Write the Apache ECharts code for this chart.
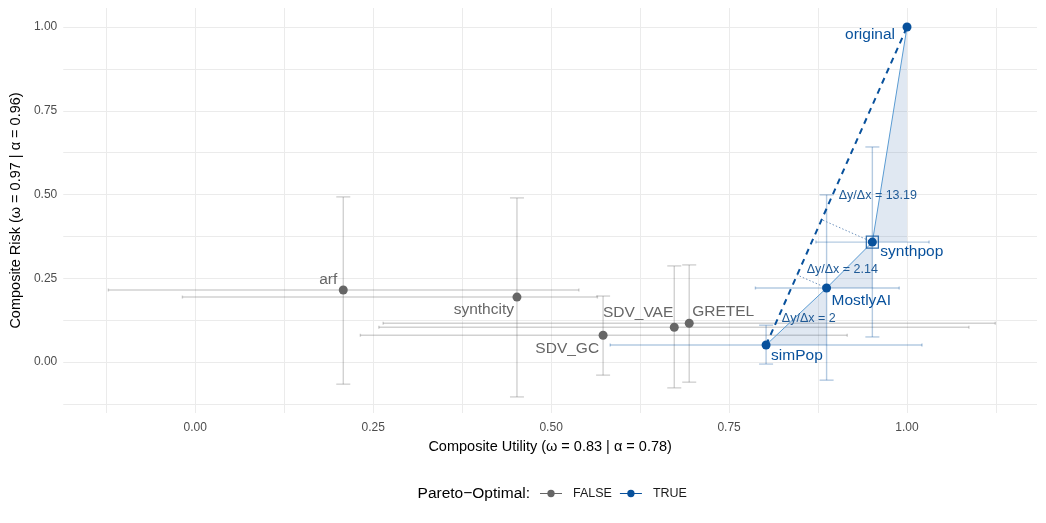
<!DOCTYPE html>
<html>
<head>
<meta charset="utf-8">
<script src="https://cdn.jsdelivr.net/npm/echarts@6/dist/echarts.min.js"></script>
<style>
  html, body { margin: 0; padding: 0; background: #fff; }
  #chart { width: 1046px; height: 523px; }
</style>
</head>
<body>
<div id="chart"></div>
<script>
// data
const methods   = ['original', 'synthpop', 'MostlyAI', 'simPop', 'arf', 'synthcity', 'SDV_GC', 'SDV_VAE', 'GRETEL'];
const utility   = [1.000, 0.9513, 0.887, 0.802, 0.208, 0.452, 0.573, 0.673, 0.694];
const risk      = [1.000, 0.358, 0.221, 0.051, 0.215, 0.194, 0.080, 0.104, 0.116];
const utilityLo = [null, 0.872, 0.787, 0.583, -0.122, -0.018, 0.232, 0.258, 0.264];
const utilityHi = [null, 1.031, 0.989, 1.021, 0.539, 0.565, 0.916, 1.087, 1.124];
const riskLo    = [null, 0.075, -0.054, -0.006, -0.066, -0.104, -0.039, -0.077, -0.060];
const riskHi    = [null, 0.642, 0.499, 0.110, 0.493, 0.490, 0.197, 0.287, 0.290];
const paretoOptimal = [true, true, true, true, false, false, false, false, false];
const bestMethod = 'synthpop';

const slopeText = ['Δy/Δx = 13.19', 'Δy/Δx = 2.14', 'Δy/Δx = 2'];
const slopeX    = [0.959, 0.909, 0.862];
const slopeY    = [0.496, 0.275, 0.131];

const xTicks = [0, 0.25, 0.5, 0.75, 1];
const yTicks = [0, 0.25, 0.5, 0.75, 1];
const xBreaks = [-0.125, 0, 0.125, 0.25, 0.375, 0.5, 0.625, 0.75, 0.875, 1, 1.125];
const yBreaks = [-0.125, 0, 0.125, 0.25, 0.375, 0.5, 0.625, 0.75, 0.875, 1];

const GREY = '#666666';
const BLUE = '#08519c';
const FONT = '"Liberation Sans", Arial, Helvetica, sans-serif';

// where each method label sits relative to its point
const labelPlace = {
  original:  { dx: -12, dy: 8,   align: 'right' },
  synthpop:  { dx: 8,   dy: 10,  align: 'left' },
  MostlyAI:  { dx: 5,   dy: 13,  align: 'left' },
  simPop:    { dx: 5,   dy: 11,  align: 'left' },
  arf:       { dx: -6,  dy: -10, align: 'right' },
  synthcity: { dx: -3,  dy: 13,  align: 'right' },
  SDV_GC:    { dx: -4,  dy: 13,  align: 'right' },
  SDV_VAE:   { dx: -1,  dy: -15, align: 'right' },
  GRETEL:    { dx: 3,   dy: -11, align: 'left' }
};

function pointItem(i) {
  const p = labelPlace[methods[i]];
  return {
    name: methods[i],
    value: [utility[i], risk[i]],
    label: {
      show: true,
      position: 'inside',
      offset: [p.dx, p.dy],
      align: p.align,
      verticalAlign: 'middle',
      formatter: '{b}'
    }
  };
}

function errItems(flag) {
  const out = [];
  for (let i = 0; i < methods.length; i++) {
    if (paretoOptimal[i] !== flag || utilityLo[i] === null) continue;
    out.push([utility[i], risk[i], utilityLo[i], utilityHi[i], riskLo[i], riskHi[i]]);
  }
  return out;
}

// pareto front sorted by utility
const frontIdx = methods.map((m, i) => i).filter(i => paretoOptimal[i]).sort((a, b) => utility[a] - utility[b]);
const frontPts = frontIdx.map(i => [utility[i], risk[i]]);
const segments = [];
for (let k = 1; k < frontPts.length; k++) {
  segments.push([frontPts[k - 1][0], frontPts[k - 1][1], frontPts[k][0], frontPts[k][1]]);
}
const chordEnds = [frontPts[0], frontPts[frontPts.length - 1]];
const interior = frontPts.slice(1, frontPts.length - 1);

function renderErr(params, api) {
  const x = api.value(0), y = api.value(1);
  const xl = api.coord([api.value(2), y]);
  const xh = api.coord([api.value(3), y]);
  const yl = api.coord([x, api.value(4)]);
  const yh = api.coord([x, api.value(5)]);
  const col = api.visual('color');
  const st = { stroke: col, lineWidth: 1.4, fill: null };
  const cap = 7, hcap = 1.5;
  const ln = (x1, y1, x2, y2) => ({ type: 'line', shape: { x1, y1, x2, y2 }, style: st });
  return {
    type: 'group',
    children: [
      ln(yl[0], yl[1], yh[0], yh[1]),
      ln(yl[0] - cap, yl[1], yl[0] + cap, yl[1]),
      ln(yh[0] - cap, yh[1], yh[0] + cap, yh[1]),
      ln(xl[0], xl[1], xh[0], xh[1]),
      ln(xl[0], xl[1] - hcap, xl[0], xl[1] + hcap),
      ln(xh[0], xh[1] - hcap, xh[0], xh[1] + hcap)
    ]
  };
}

function renderShade(params, api) {
  const a = api.coord([api.value(0), api.value(1)]);
  const b = api.coord([api.value(2), api.value(3)]);
  const c = api.coord([api.value(2), api.value(1)]);
  return {
    type: 'polygon',
    shape: { points: [a, b, c] },
    style: { fill: 'rgba(45,100,165,0.15)', stroke: null }
  };
}

function renderLeader(params, api) {
  const p = api.coord([api.value(0), api.value(1)]);
  const a = api.coord(chordEnds[0]);
  const b = api.coord(chordEnds[1]);
  const dx = b[0] - a[0], dy = b[1] - a[1];
  const t = ((p[0] - a[0]) * dx + (p[1] - a[1]) * dy) / (dx * dx + dy * dy);
  const f = [a[0] + t * dx, a[1] + t * dy];
  return {
    type: 'line',
    shape: { x1: p[0], y1: p[1], x2: f[0], y2: f[1] },
    style: { stroke: '#6f93bd', lineWidth: 1, lineDash: [1.5, 2] }
  };
}

function renderSlope(params, api) {
  const p = api.coord([api.value(0), api.value(1)]);
  return {
    type: 'text',
    x: p[0], y: p[1],
    style: {
      text: slopeText[params.dataIndex],
      fill: '#1f5a96',
      font: '12.5px ' + FONT,
      align: 'center',
      verticalAlign: 'middle'
    }
  };
}

const legendIcon = 'path://M0,4.5L24,4.5L24,5.5L0,5.5Z M8,5A4,4 0 1,1 16,5A4,4 0 1,1 8,5Z';

const chart = echarts.init(document.getElementById('chart'));
chart.setOption({
  animation: false,
  textStyle: { fontFamily: FONT },
  grid: { left: 63, right: 9, top: 8, bottom: 110 },
  xAxis: {
    type: 'value',
    min: -0.1854,
    max: 1.1826,
    name: 'Composite Utility (ω = 0.83 | α = 0.78)',
    nameLocation: 'middle',
    nameGap: 26,
    nameTextStyle: { color: '#000', fontSize: 14.5, fontFamily: FONT },
    axisLine: { show: false },
    axisTick: { show: false, customValues: xBreaks },
    axisLabel: {
      customValues: xTicks,
      color: '#4d4d4d', fontSize: 12, margin: 9, fontFamily: FONT,
      formatter: v => v.toFixed(2)
    },
    splitLine: { show: true, lineStyle: { color: '#ebebeb', width: 1 } }
  },
  yAxis: {
    type: 'value',
    min: -0.152,
    max: 1.0567,
    name: 'Composite Risk (ω = 0.97 | α = 0.96)',
    nameLocation: 'middle',
    nameGap: 39,
    nameTextStyle: { color: '#000', fontSize: 14.5, fontFamily: FONT },
    axisLine: { show: false },
    axisTick: { show: false, customValues: yBreaks },
    axisLabel: {
      customValues: yTicks,
      color: '#4d4d4d', fontSize: 12, margin: 6, fontFamily: FONT,
      formatter: v => v.toFixed(2)
    },
    splitLine: { show: true, lineStyle: { color: '#ebebeb', width: 1 } }
  },
  graphic: [{
    type: 'text',
    right: 1046 - 530,
    top: 486,
    style: { text: 'Pareto−Optimal:', fill: '#000', font: '15.5px ' + FONT }
  }],
  legend: {
    left: 540,
    top: 487,
    padding: 0,
    itemWidth: 22,
    itemHeight: 9,
    itemGap: 8,
    textStyle: { fontSize: 12.5, color: '#1a1a1a', fontFamily: FONT, padding: [0, 0, 0, 6] },
    data: [
      { name: 'FALSE', icon: legendIcon },
      { name: 'TRUE', icon: legendIcon }
    ]
  },
  series: [
    {
      name: 'errFALSE', type: 'custom', renderItem: renderErr, z: 1,
      itemStyle: { color: 'rgba(102,102,102,0.3)' },
      data: errItems(false)
    },
    {
      name: 'errTRUE', type: 'custom', renderItem: renderErr, z: 1,
      itemStyle: { color: 'rgba(8,81,156,0.3)' },
      data: errItems(true)
    },
    {
      name: 'shade', type: 'custom', renderItem: renderShade, z: 2,
      data: segments
    },
    {
      name: 'front', type: 'line', z: 3, showSymbol: false, symbol: 'none',
      lineStyle: { color: '#5a9bd2', width: 1 },
      data: frontPts
    },
    {
      name: 'chord', type: 'line', z: 4, showSymbol: false, symbol: 'none',
      lineStyle: { color: BLUE, width: 2, type: [6, 5] },
      data: chordEnds
    },
    {
      name: 'leaders', type: 'custom', renderItem: renderLeader, z: 4,
      data: interior
    },
    {
      name: 'FALSE', type: 'scatter', z: 5, symbolSize: 9,
      itemStyle: { color: GREY, opacity: 1 },
      label: { color: GREY, fontSize: 15.5, fontFamily: FONT },
      data: methods.map((m, i) => i).filter(i => !paretoOptimal[i]).map(pointItem)
    },
    {
      name: 'TRUE', type: 'scatter', z: 5, symbolSize: 9,
      itemStyle: { color: BLUE, opacity: 1 },
      label: { color: BLUE, fontSize: 15.5, fontFamily: FONT },
      data: methods.map((m, i) => i).filter(i => paretoOptimal[i]).map(pointItem)
    },
    {
      name: 'best', type: 'scatter', z: 6, symbol: 'rect', symbolSize: 12,
      itemStyle: { color: 'none', borderColor: BLUE, borderWidth: 1.3 },
      silent: true,
      data: methods.map((m, i) => i).filter(i => methods[i] === bestMethod).map(i => [utility[i], risk[i]])
    },
    {
      name: 'slopes', type: 'custom', renderItem: renderSlope, z: 7,
      data: slopeX.map((x, k) => [x, slopeY[k]])
    }
  ]
});
</script>
</body>
</html>
